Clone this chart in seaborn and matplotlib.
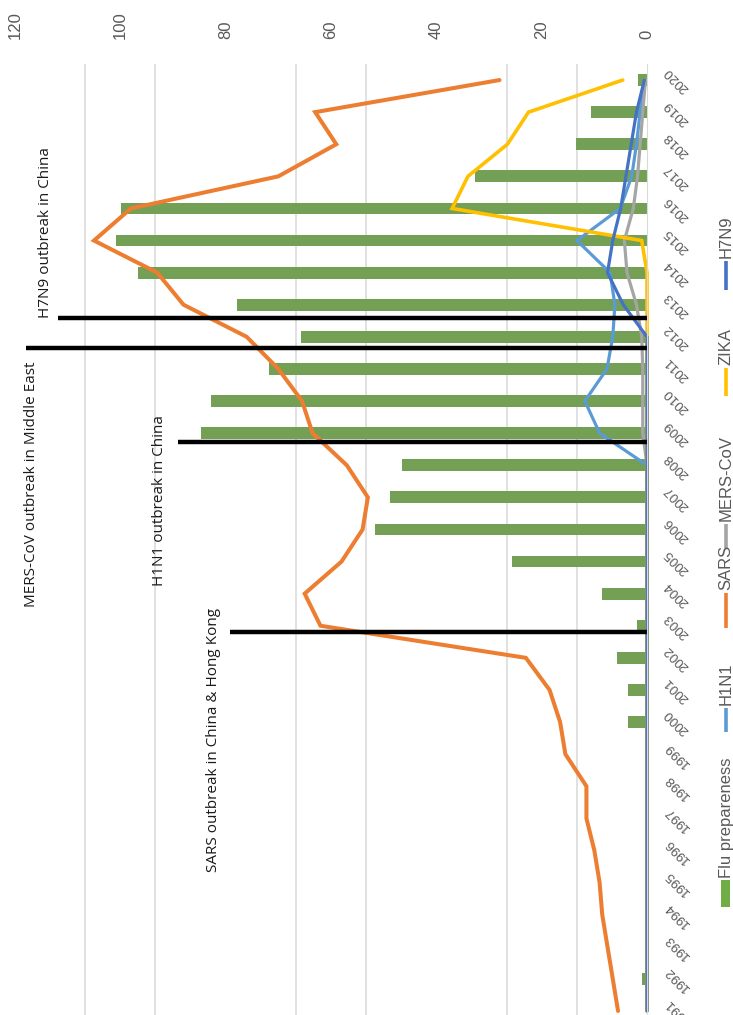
import numpy as np
import pandas as pd
import matplotlib
matplotlib.use("Agg")
import matplotlib.pyplot as plt
from matplotlib.lines import Line2D
from matplotlib.patches import Rectangle
import seaborn as sns

# %% data

years = [1991, 1992, 1993, 1994, 1995, 1996, 1997, 1998, 1999, 2000,
         2001, 2002, 2003, 2004, 2005, 2006, 2007, 2008, 2009, 2010,
         2011, 2012, 2013, 2014, 2015, 2016, 2017, 2018, 2019, 2020]

flu_prep = [0, 1, 0, 0, 0, 0, 0, 0, 0, 3.6,
            3.6, 5.7, 1.9, 8.5, 25.6, 51.6, 48.8, 46.5, 84.7, 82.8,
            71.8, 65.7, 77.8, 96.6, 100.8, 99.9, 32.7, 13.5, 10.6, 1.7]

h1n1 = [0, 0, 0, 0, 0, 0, 0, 0, 0, 0,
        0, 0, 0, 0, 0, 0, 0, 0, 9, 11.8,
        7.6, 6.5, 6.1, 7, 13.3, 5.1, 2.9, 2, 1.3, 0.4]

sars = [5.5, 6.5, 7.5, 8.5, 9, 10, 11.5, 11.5, 15.5, 16.5,
        18.5, 23, 62, 65, 58, 54, 53, 57, 63.5, 65.5,
        70, 76, 88, 93, 105, 98, 70, 59, 63, 28]

mers = [0, 0, 0, 0, 0, 0, 0, 0, 0, 0,
        0, 0, 0, 0, 0, 0, 0, 0, 0.8, 0.8,
        0.8, 1, 2, 3.8, 4.3, 2.6, 1.8, 1.3, 0.8, 0.3]

zika = [0, 0, 0, 0, 0, 0, 0, 0, 0, 0,
        0, 0, 0, 0, 0, 0, 0, 0, 0, 0,
        0, 0, 0, 0, 1, 37, 34, 26.5, 22.5, 4.6]

h7n9 = [0, 0, 0, 0, 0, 0, 0, 0, 0, 0,
        0, 0, 0, 0, 0, 0, 0, 0, 0, 0,
        0, 0, 4.5, 7.5, 6.5, 5, 4, 3, 2, 0.5]

series_names = ["H1N1", "SARS", "MERS-CoV", "ZIKA", "H7N9"]

# outbreak markers: year position of the black line, where it starts on the value axis
event_labels = ["SARS outbreak in China & Hong Kong", "H1N1 outbreak in China",
                "MERS-CoV outbreak in Middle East", "H7N9 outbreak in China"]
event_years = [2002.8, 2008.72, 2011.65, 2012.6]
event_reach = [79.2, 89, 118, 111.8]
label_values = [82.4, 92.6, 116.8, 114.3]
label_years = [1999.45, 2006.9, 2007.4, 2015.25]

value_ticks = [0, 20, 40, 60, 80, 100, 120]

# %% style

sns.set_style("white")
plt.rcParams["font.family"] = ["Liberation Sans", "DejaVu Sans"]

GREEN = "#70AD47"
palette = {
    "H1N1": "#5B9BD5",
    "SARS": "#ED7D31",
    "MERS-CoV": "#A5A5A5",
    "ZIKA": "#FFC000",
    "H7N9": "#4472C4",
}
TICK_GREY = "#595959"

# %% frames

bars = pd.DataFrame({"year": years, "flu": flu_prep})
lines = pd.DataFrame({
    "year": years * 5,
    "value": h1n1 + sars + mers + zika + h7n9,
    "series": [s for s in series_names for _ in years],
})

# %% figure

W, H = 733, 1015
fig = plt.figure(figsize=(W / 100, H / 100), dpi=100)
left, right, top, bottom = 15, 647, 64, 1027
ax = fig.add_axes([left / W, (H - bottom) / H, (right - left) / W, (bottom - top) / H])

sns.barplot(data=bars, x="flu", y="year", orient="h", native_scale=True,
            color=GREEN, width=0.37, linewidth=0, errorbar=None, ax=ax)

lw = {"H1N1": 2.3, "SARS": 2.9, "MERS-CoV": 2.3, "ZIKA": 2.6, "H7N9": 2.3}
for name in series_names:
    sub = lines[lines["series"] == name]
    sns.lineplot(data=sub, x="value", y="year", orient="y", color=palette[name],
                 lw=lw[name], legend=False, ax=ax)
for ln in ax.lines:
    ln.set_clip_on(False)
    ln.set_solid_joinstyle("miter")

# outbreak lines + labels
for lab, yr, reach, lv, ly in zip(event_labels, event_years, event_reach, label_values, label_years):
    ax.plot([reach, 0], [yr, yr], color="black", lw=3.2, solid_capstyle="butt", clip_on=False)
    ax.text(lv, ly, lab, rotation=90, ha="center", va="center", fontsize=11,
            family=["Open Sans", "DejaVu Sans"], color="#1a1a1a")

ax.set_xlim(120, 0)
ax.set_ylim(1990.5, 2020.5)

# value axis on top, grid every 9th of the range like the source
ax.xaxis.tick_top()
ax.set_xticks(value_ticks)
ax.set_xticklabels([str(v) for v in value_ticks], rotation=90, color=TICK_GREY, fontsize=12)
ax.set_xticks(np.linspace(0, 120, 10), minor=True)
ax.tick_params(axis="x", which="both", length=0, pad=18)
ax.grid(False)
ax.grid(True, which="minor", axis="x", color="#d9d9d9", lw=1.1)

ax.yaxis.tick_right()
ax.set_yticks(years)
ax.set_yticklabels([str(y) for y in years], rotation=135, color=TICK_GREY, fontsize=9.5,
                   ha="left", va="center")
ax.tick_params(axis="y", length=0, pad=11)

ax.set_xlabel("")
ax.set_ylabel("")
for side in ["top", "left", "bottom"]:
    ax.spines[side].set_visible(False)
ax.spines["right"].set_color("#d9d9d9")

# %% legend, laid out vertically on the right like the rotated original

def fx(px):
    return px / W

def fy(py):
    return (H - py) / H

leg_x = 726
fig.add_artist(Rectangle((fx(721), fy(907)), 9 / W, 27 / H, transform=fig.transFigure,
                         color=GREEN, lw=0))
fig.text(fx(leg_x), fy(878), "Flu prepareness", rotation=90, ha="center", va="bottom",
         fontsize=12, color=TICK_GREY)

legend_items = [("H1N1", 732, 708, 705), ("SARS", 628, 593, 590),
                ("MERS-CoV", 548, 524, 521), ("ZIKA", 396, 368, 365),
                ("H7N9", 290, 261, 258)]
for name, y0, y1, ty in legend_items:
    fig.add_artist(Line2D([fx(leg_x), fx(leg_x)], [fy(y0), fy(y1)], transform=fig.transFigure,
                          color=palette[name], lw=2.6, solid_capstyle="butt"))
    fig.text(fx(leg_x), fy(ty), name, rotation=90, ha="center", va="bottom",
             fontsize=12, color=TICK_GREY)

fig.savefig("out.png", dpi=100)
